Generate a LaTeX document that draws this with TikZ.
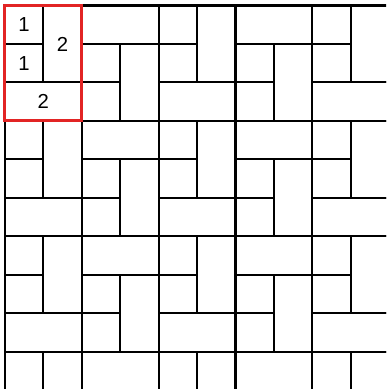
\documentclass[tikz,border=0pt]{standalone}
\usepackage{fontspec}
\setmainfont{Liberation Sans}
\usetikzlibrary{positioning}
\definecolor{framered}{RGB}{226,36,36}

\begin{document}
\begin{tikzpicture}[x=1cm, y=-1cm,
    tile/.style={draw=black, line width=1.5pt},
    frame/.style={draw=framered, line width=2pt},
    num/.style={font=\fontsize{15}{17}\selectfont, inner sep=0pt}]

    \useasboundingbox (-0.125,-0.143) rectangle (9.914,9.974);

    % 2x3 blocks, two layouts alternating by column
    \begin{scope}
    \clip (-0.125,-0.143) rectangle (9.914,9.974);
    \foreach \Y in {0,3,6,9} {
      \foreach \X in {0,4,8} {
        \draw[tile] (\X,\Y) rectangle (\X+1,\Y+1);
        \draw[tile] (\X,\Y+1) rectangle (\X+1,\Y+2);
        \draw[tile] (\X+1,\Y) rectangle (\X+2,\Y+2);
        \draw[tile] (\X,\Y+2) rectangle (\X+2,\Y+3);
      }
      \foreach \X in {2,6} {
        \draw[tile] (\X,\Y) rectangle (\X+2,\Y+1);
        \draw[tile] (\X,\Y+1) rectangle (\X+1,\Y+2);
        \draw[tile] (\X,\Y+2) rectangle (\X+1,\Y+3);
        \draw[tile] (\X+1,\Y+1) rectangle (\X+2,\Y+3);
      }
    }
    \end{scope}

    % highlighted block
    \draw[frame] (0,0) rectangle (2,3);
    \node[num] (sqtop) at (0.5,0.5) {1};
    \node[num] (sqlow) at (0.5,1.5) {1};
    \node[num] (vdom) at (1.5,1.0) {2};
    \node[num] (hdom) at (1.0,2.5) {2};
\end{tikzpicture}
\end{document}
